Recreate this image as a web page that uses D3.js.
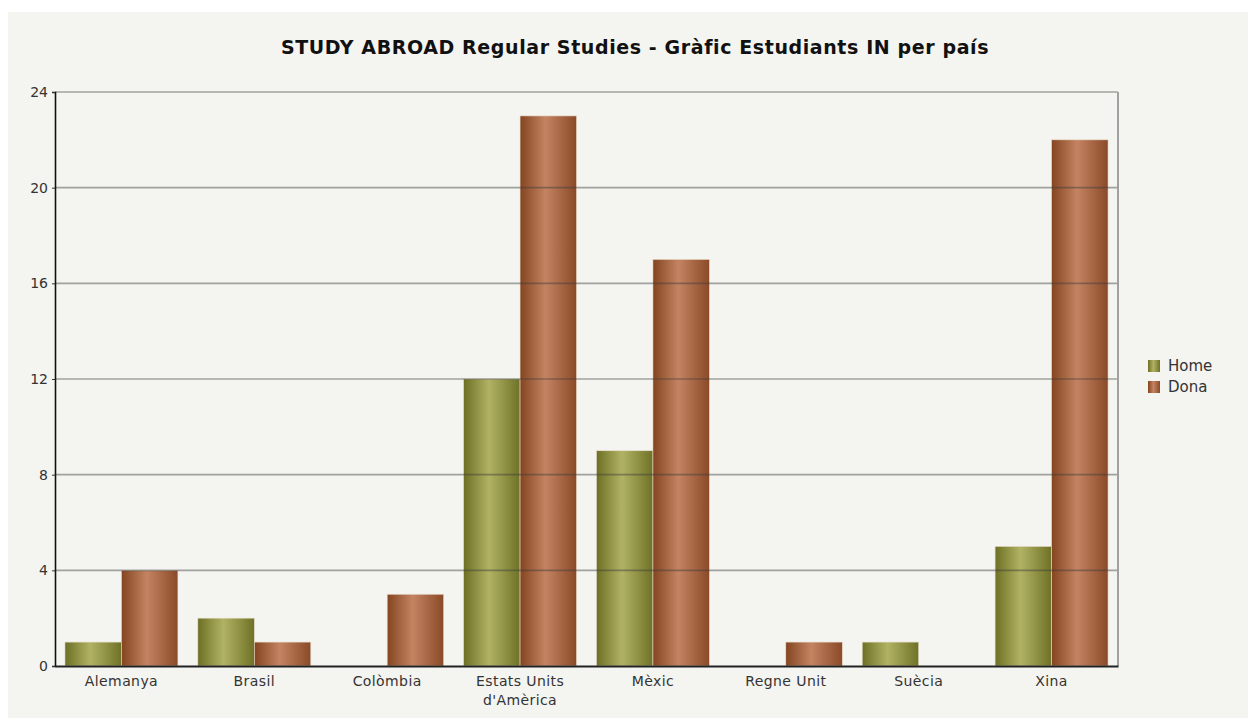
<!DOCTYPE html>
<html>
<head>
<meta charset="utf-8">
<script src="https://cdn.jsdelivr.net/npm/d3@7"></script>
<style>
body { margin: 0; background: #ffffff; }
text { font-family: "DejaVu Sans", Verdana, sans-serif; }
</style>
</head>
<body>
<div id="graph"></div>
<script>
var countries = ["Alemanya", "Brasil", "Colòmbia", "Estats Units|d'Amèrica", "Mèxic", "Regne Unit", "Suècia", "Xina"];
var seriesNames = ["Home", "Dona"];
var homeValues = [1, 2, 0, 12, 9, 0, 1, 5];
var donaValues = [4, 1, 3, 23, 17, 1, 0, 22];
var yTicks = [0, 4, 8, 12, 16, 20, 24];
var title = "STUDY ABROAD Regular Studies - Gràfic Estudiants IN per país";

var W = 1248, H = 718;
var margin = {top: 92, right: 130, bottom: 52, left: 55};
var width = W - margin.left - margin.right,
	height = H - margin.top - margin.bottom;

var svg = d3.select("div#graph").append("svg")
	.attr("width", W)
	.attr("height", H);

// chart background
svg.append("rect")
	.attr("x", 8).attr("y", 12)
	.attr("width", W - 8).attr("height", H - 12)
	.attr("fill", "#f4f4f0");

// gradients for the bars
var defs = svg.append("defs");
var grads = {
	Home: ["#6c7024", "#b2b264", "#6e7226"],
	Dona: ["#83441f", "#c48463", "#8a4a28"]
};
seriesNames.forEach(function(s) {
	var g = defs.append("linearGradient")
		.attr("id", "grad" + s)
		.attr("x1", "0%").attr("x2", "100%")
		.attr("y1", "0%").attr("y2", "0%");
	g.append("stop").attr("offset", "0%").attr("stop-color", grads[s][0]);
	g.append("stop").attr("offset", "45%").attr("stop-color", grads[s][1]);
	g.append("stop").attr("offset", "100%").attr("stop-color", grads[s][2]);
});

var g = svg.append("g")
	.attr("transform", "translate(" + margin.left + "," + margin.top + ")");

var xScale = d3.scaleBand().domain(countries).range([0, width]).paddingInner(0.15).paddingOuter(0.075);
var xSub = d3.scaleBand().domain(seriesNames).range([0, xScale.bandwidth()]);
var yScale = d3.scaleLinear().domain([0, 24]).range([height, 0]);

var data = countries.map(function(c, i) {
	return {country: c, values: [
		{series: "Home", value: homeValues[i]},
		{series: "Dona", value: donaValues[i]}
	]};
});

// bars
var groups = g.selectAll("g.grp").data(data).enter().append("g")
	.attr("class", "grp")
	.attr("transform", function(d) { return "translate(" + xScale(d.country) + ",0)"; });

groups.selectAll("rect").data(function(d) { return d.values.filter(function(v) { return v.value > 0; }); })
	.enter().append("rect")
	.attr("x", function(d) { return xSub(d.series); })
	.attr("width", xSub.bandwidth())
	.attr("y", function(d) { return yScale(d.value); })
	.attr("height", function(d) { return height - yScale(d.value); })
	.attr("fill", function(d) { return "url(#grad" + d.series + ")"; })
	.attr("stroke", "#e8dccc")
	.attr("stroke-width", 0.6);

// gridlines on top, semi transparent
g.selectAll("line.grid").data(yTicks.filter(function(t) { return t > 0; }))
	.enter().append("line")
	.attr("class", "grid")
	.attr("x1", 0).attr("x2", width)
	.attr("y1", function(d) { return yScale(d); })
	.attr("y2", function(d) { return yScale(d); })
	.attr("stroke", "rgba(60,60,60,0.45)")
	.attr("stroke-width", 1.6);

// right border
g.append("line")
	.attr("x1", width).attr("x2", width)
	.attr("y1", 0).attr("y2", height)
	.attr("stroke", "#a0a0a0")
	.attr("stroke-width", 2);

// Y axis
var yAxis = g.append("g")
	.call(d3.axisLeft(yScale).tickValues(yTicks).tickSize(3).tickPadding(4));
yAxis.select(".domain").attr("stroke", "#111").attr("stroke-width", 1.6);
yAxis.selectAll(".tick line").attr("stroke", "#333");
yAxis.selectAll("text").attr("font-size", 14).attr("fill", "#333");

// X axis
var xAxis = g.append("g")
	.attr("transform", "translate(0," + height + ")")
	.call(d3.axisBottom(xScale).tickSize(0).tickPadding(8).tickFormat(""));
xAxis.select(".domain").attr("stroke", "#222").attr("stroke-width", 2);
xAxis.selectAll(".tick").each(function(d) {
	var t = d3.select(this).append("text")
		.attr("fill", "#333")
		.attr("font-size", 14)
		.attr("letter-spacing", 0.4)
		.attr("text-anchor", "middle");
	d.split("|").forEach(function(line, i) {
		t.append("tspan").attr("x", 0).attr("y", 20 + i * 19).text(line);
	});
});

// title
svg.append("text")
	.attr("x", 635).attr("y", 54)
	.attr("text-anchor", "middle")
	.attr("font-size", 19)
	.attr("font-weight", "bold")
	.attr("letter-spacing", 0.6)
	.attr("fill", "#111")
	.text(title);

// legend
var legend = svg.append("g").attr("transform", "translate(1148,360)");
seriesNames.forEach(function(s, i) {
	var row = legend.append("g").attr("transform", "translate(0," + (i * 21) + ")");
	row.append("rect").attr("width", 12).attr("height", 12)
		.attr("fill", "url(#grad" + s + ")");
	row.append("text").attr("x", 20).attr("y", 11)
		.attr("font-size", 15).attr("fill", "#333").text(s);
});
</script>
</body>
</html>
